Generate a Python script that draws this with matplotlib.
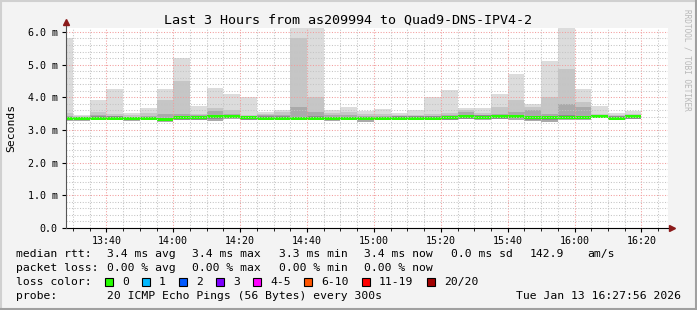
import matplotlib
matplotlib.use('Agg')
import matplotlib.pyplot as plt
import matplotlib.ticker as ticker
from matplotlib.patches import Rectangle
from matplotlib.lines import Line2D
import numpy as np
import pandas as pd

# time span of the graph (end = time of rendering)
t_end = pd.Timestamp('2026-01-13 16:27:56')
t_start = t_end - pd.Timedelta(hours=3)
bar_starts = pd.date_range('2026-01-13 13:30', '2026-01-13 16:15', freq='5min')

# smoke levels per 5 min step, ms (first value = partial step before 13:30)
ping_max = [5.81, 3.46, 3.92, 4.25, 3.51, 3.68, 4.25, 5.19, 3.73, 4.28, 4.09, 4.02,
            3.56, 3.61, 6.40, 6.40, 3.61, 3.70, 3.58, 3.64, 3.51, 3.61, 4.01, 4.22,
            3.66, 3.68, 4.09, 4.71, 3.79, 5.11, 6.40, 4.25, 3.73, 3.53, 3.59]
ping_hi = [3.52, 3.42, 3.55, 3.50, 3.46, 3.52, 3.92, 4.51, 3.50, 3.67, 3.61, 3.46,
           3.50, 3.55, 5.81, 4.02, 3.52, 3.55, 3.50, 3.48, 3.45, 3.45, 3.48, 3.52,
           3.60, 3.52, 3.70, 3.92, 3.70, 4.02, 4.87, 3.87, 3.50, 3.45, 3.50]
ping_mid = [3.42, 3.38, 3.47, 3.42, 3.40, 3.44, 3.50, 3.50, 3.45, 3.58, 3.50, 3.42,
            3.45, 3.47, 3.71, 3.55, 3.45, 3.45, 3.43, 3.42, 3.40, 3.40, 3.42, 3.46,
            3.55, 3.47, 3.50, 3.55, 3.60, 3.50, 3.80, 3.70, 3.45, 3.40, 3.45]
ping_min = [3.27, 3.28, 3.29, 3.30, 3.28, 3.30, 3.25, 3.33, 3.33, 3.28, 3.33, 3.31,
            3.31, 3.31, 3.32, 3.33, 3.27, 3.30, 3.25, 3.30, 3.32, 3.31, 3.31, 3.33,
            3.33, 3.32, 3.33, 3.30, 3.28, 3.25, 3.30, 3.32, 3.36, 3.32, 3.33]
median = [3.34, 3.34, 3.36, 3.36, 3.34, 3.35, 3.31, 3.37, 3.37, 3.40, 3.41, 3.37,
          3.36, 3.36, 3.35, 3.36, 3.34, 3.35, 3.35, 3.35, 3.36, 3.36, 3.36, 3.37,
          3.40, 3.39, 3.40, 3.41, 3.37, 3.37, 3.39, 3.38, 3.41, 3.36, 3.40]

stats_rtt = ['3.4 ms avg', '3.4 ms max', '3.3 ms min', '3.4 ms now', '0.0 ms sd', '142.9', 'am/s']
stats_loss = ['0.00 % avg', '0.00 % max', '0.00 % min', '0.00 % now']
loss_labels = ['0', '1', '2', '3', '4-5', '6-10', '11-19', '20/20']
loss_colors = ['#26ff00', '#00b8ff', '#0059ff', '#7e00ff', '#ff00ff', '#ff5500', '#ff0000', '#a10000']


def to_min(t):
    return t.hour * 60 + t.minute + t.second / 60


edges = [to_min(t_start)] + [to_min(t) for t in bar_starts] + [to_min(bar_starts[-1]) + 5]
edges = np.array(edges)
lo = np.array(ping_min)
med = np.array(median)

W, H = 697, 310
fig = plt.figure(figsize=(W / 100, H / 100), dpi=100, facecolor='#f3f3f3')
plt.rcParams['font.family'] = 'DejaVu Sans Mono'

ax = fig.add_axes([66 / W, 82 / H, 602 / W, 200 / H])
ax.set_facecolor('white')

# smoke, light to dark
ax.stairs(ping_max, edges, baseline=lo, fill=True, color='#dcdcdc', zorder=1)
ax.stairs(ping_hi, edges, baseline=lo, fill=True, color='#c6c6c6', zorder=1.1)
ax.stairs(ping_mid, edges, baseline=lo, fill=True, color='#aaaaaa', zorder=1.2)
ax.stairs(med + 0.06, edges, baseline=med - 0.05, fill=True, color='#8e8e8e', zorder=1.3)
# median, coloured by loss
ax.stairs(med + 0.045, edges, baseline=med - 0.045, fill=True, color=loss_colors[0], zorder=1.5)

ax.set_xlim(to_min(t_start), to_min(t_end))
ax.set_ylim(0, 6.12)

ax.xaxis.set_major_locator(ticker.MultipleLocator(20))
ax.xaxis.set_minor_locator(ticker.MultipleLocator(5))
ax.xaxis.set_major_formatter(ticker.FuncFormatter(lambda v, p: f"{int(v // 60)}:{int(round(v % 60)):02d}"))
ax.yaxis.set_major_locator(ticker.MultipleLocator(1.0))
ax.yaxis.set_minor_locator(ticker.MultipleLocator(0.2))
ax.yaxis.set_major_formatter(ticker.FuncFormatter(lambda v, p: '0.0' if v == 0 else f"{v:.1f} m"))

ax.set_axisbelow(False)
ax.grid(which='minor', color='#c4c4c4', linestyle=(0, (1, 1.6)), linewidth=0.75)
ax.grid(which='major', color='#f29c9c', linestyle=(0, (1, 1.6)), linewidth=0.75)

ax.tick_params(which='both', direction='out', labelsize=7.2, colors='black')
ax.tick_params(axis='x', which='major', length=3, pad=3)
ax.tick_params(axis='x', which='minor', length=2)
ax.tick_params(axis='y', which='major', length=3, pad=3)
ax.tick_params(axis='y', which='minor', length=0)

for s in ax.spines.values():
    s.set_visible(False)

# axes with arrows
fig.add_artist(Line2D([66 / W, 674 / W], [82 / H, 82 / H], color='black', linewidth=0.8))
fig.add_artist(Line2D([66 / W, 66 / W], [82 / H, (H - 24) / H], color='#555555', linewidth=0.8))
fig.add_artist(Line2D([672 / W], [82 / H], marker='>', markersize=5, color='#8b1a1a'))
fig.add_artist(Line2D([66 / W], [(H - 22) / H], marker='^', markersize=5, color='#8b1a1a'))

fig.text(0.5, 1 - 20 / H, 'Last 3 Hours from as209994 to Quad9-DNS-IPV4-2',
         ha='center', va='center', fontsize=9.6)
fig.text(11 / W, 1 - 128 / H, 'Seconds', rotation=90, ha='center', va='center', fontsize=8.2)
fig.text(687 / W, 1 - 60 / H, 'RRDTOOL / TOBI OETIKER', rotation=270, ha='center', va='center',
         fontsize=5.6, color='#b8b8b8')

# legend area
fs = 8.2
col_x = [107, 192, 279, 364, 451, 530, 587]


def row(y, label, items, xs):
    fig.text(16 / W, 1 - y / H, label, ha='left', va='center', fontsize=fs)
    for txt, x in zip(items, xs):
        fig.text(x / W, 1 - y / H, txt, ha='left', va='center', fontsize=fs)


row(254, 'median rtt:', stats_rtt, col_x)
row(268, 'packet loss:', stats_loss, col_x)

fig.text(16 / W, 1 - 282 / H, 'loss color:', ha='left', va='center', fontsize=fs)
box_x = [105, 142, 179, 216, 253, 304, 362, 427]
for bx, lab, c in zip(box_x, loss_labels, loss_colors):
    fig.add_artist(Rectangle((bx / W, (H - 286) / H), 8 / W, 8 / H, facecolor=c,
                             edgecolor='black', linewidth=0.8))
    fig.text((bx + 17) / W, 1 - 282 / H, lab, ha='left', va='center', fontsize=fs)

fig.text(16 / W, 1 - 296 / H, 'probe:', ha='left', va='center', fontsize=fs)
fig.text(107 / W, 1 - 296 / H, '20 ICMP Echo Pings (56 Bytes) every 300s', ha='left', va='center', fontsize=fs)
fig.text(681 / W, 1 - 296 / H, 'Tue Jan 13 16:27:56 2026', ha='right', va='center', fontsize=fs)

# 3d-ish frame
fig.add_artist(Line2D([0, 1], [1 - 1 / H, 1 - 1 / H], color='#d0d0d0', linewidth=1.5))
fig.add_artist(Line2D([1 / W, 1 / W], [0, 1], color='#d0d0d0', linewidth=1.5))
fig.add_artist(Line2D([0, 1], [1 / H, 1 / H], color='#a0a0a0', linewidth=1.5))
fig.add_artist(Line2D([1 - 1 / W, 1 - 1 / W], [0, 1], color='#a0a0a0', linewidth=1.5))

fig.savefig('out.png', dpi=100, facecolor=fig.get_facecolor())
